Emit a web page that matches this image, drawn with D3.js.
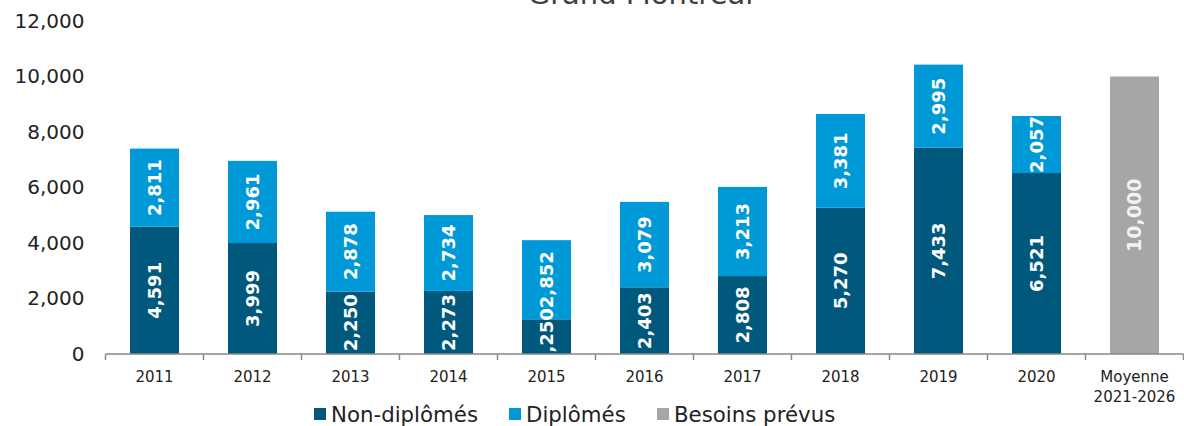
<!DOCTYPE html>
<html>
<head>
<meta charset="utf-8">
<script src="https://cdn.jsdelivr.net/npm/d3@7"></script>
<style>
  body { margin: 0; background: #fff; }
  svg { font-family: "DejaVu Sans", Verdana, sans-serif; }
</style>
</head>
<body>
<svg id="plot"></svg>
<script>
// data
let categories = ["2011","2012","2013","2014","2015","2016","2017","2018","2019","2020","Moyenne\n2021-2026"];
let nonDiplomes = [4591, 3999, 2250, 2273, 1250, 2403, 2808, 5270, 7433, 6521, 0];
let diplomes    = [2811, 2961, 2878, 2734, 2852, 3079, 3213, 3381, 2995, 2057, 0];
let besoins     = [0, 0, 0, 0, 0, 0, 0, 0, 0, 0, 10000];
let seriesNames = ["Non-diplômés", "Diplômés", "Besoins prévus"];
let yTicks = [0, 2000, 4000, 6000, 8000, 10000, 12000];

let colors = ["#00587c", "#0099d8", "#a6a6a6"];

let svgwidth = 1184, svgheight = 426;
let margin_left = 105.5, margin_right = 0.5, margin_top = 21, margin_bottom = 72;
let plot_width = svgwidth - margin_left - margin_right;
let plot_height = svgheight - margin_top - margin_bottom;

let svg = d3.select("#plot").attr("width", svgwidth).attr("height", svgheight);

//build stacked rows for d3.stack
let rows = categories.map((c, i) => ({cat: c, s0: nonDiplomes[i], s1: diplomes[i], s2: besoins[i]}));
let stacked = d3.stack().keys(["s0","s1","s2"])(rows);

let x_scale = d3.scaleBand(categories, [margin_left, margin_left + plot_width]).paddingInner(0.5).paddingOuter(0.25);
let y_scale = d3.scaleLinear([0, 12000], [margin_top + plot_height, margin_top]);

//title, mostly cut off at the top
svg.append("text")
  .attr("x", margin_left + plot_width / 2 - 4)
  .attr("y", 4)
  .attr("text-anchor", "middle")
  .attr("font-size", 29)
  .attr("fill", "#404040")
  .text("Grand Montréal");

//y axis labels only
let yAxis = d3.axisLeft(y_scale).tickValues(yTicks).tickFormat(d3.format(",")).tickSize(0).tickPadding(0);
let y_ax = svg.append("g")
  .attr("transform", `translate(${margin_left - 21},0)`)
  .call(yAxis);
y_ax.select(".domain").remove();
y_ax.selectAll("text").attr("font-size", 20).attr("fill", "#222").attr("font-family", "DejaVu Sans, Verdana, sans-serif");

//clip for the labels
svg.append("clipPath").attr("id", "plotclip")
  .append("rect").attr("x", margin_left).attr("y", 0)
  .attr("width", plot_width).attr("height", margin_top + plot_height);

//bars
let gBars = svg.append("g");
stacked.forEach((layer, k) => {
  gBars.append("g").selectAll("rect")
    .data(layer.filter(d => d[1] > d[0]))
    .join("rect")
    .attr("x", d => x_scale(d.data.cat))
    .attr("width", x_scale.bandwidth())
    .attr("y", d => y_scale(d[1]))
    .attr("height", d => y_scale(d[0]) - y_scale(d[1]))
    .attr("fill", colors[k]);
});

//value labels, rotated
let gLab = svg.append("g").attr("clip-path", "url(#plotclip)");
stacked.forEach((layer, k) => {
  gLab.append("g").selectAll("text")
    .data(layer.filter(d => d[1] > d[0]))
    .join("text")
    .attr("transform", d => `translate(${x_scale(d.data.cat) + x_scale.bandwidth() / 2},${y_scale((d[0] + d[1]) / 2)}) rotate(-90)`)
    .attr("text-anchor", "middle")
    .attr("dy", "0.36em")
    .attr("font-size", k == 2 ? 19 : 18)
    .attr("font-weight", "bold")
    .attr("fill", k == 2 ? "#f2f2f2" : "#fff")
    .text(d => d3.format(",")(d[1] - d[0]));
});

//x axis with ticks between categories
let x_ax = svg.append("g").attr("transform", `translate(0,${margin_top + plot_height})`);
x_ax.append("line")
  .attr("x1", margin_left).attr("x2", margin_left + plot_width)
  .attr("stroke", "#898989").attr("stroke-width", 1.5);
let bounds = categories.map(c => x_scale(c) - x_scale.step() * 0.25).concat([margin_left + plot_width]);
x_ax.selectAll(".tk").data(bounds).join("line")
  .attr("x1", d => d).attr("x2", d => d).attr("y1", 0).attr("y2", 6)
  .attr("stroke", "#898989").attr("stroke-width", 1.5);
x_ax.selectAll(".lab").data(categories).join("text")
  .attr("x", d => x_scale(d) + x_scale.bandwidth() / 2)
  .attr("y", 28)
  .attr("text-anchor", "middle")
  .attr("font-size", 15)
  .attr("fill", "#222")
  .each(function(d) {
    let parts = d.split("\n");
    d3.select(this).selectAll("tspan").data(parts).join("tspan")
      .attr("x", x_scale(d) + x_scale.bandwidth() / 2)
      .attr("dy", (p, i) => i == 0 ? 0 : 20)
      .text(p => p);
  });

//legend
let legendX = [314, 509, 657];
let leg = svg.append("g").attr("transform", "translate(0,414)");
seriesNames.forEach((n, i) => {
  leg.append("rect").attr("x", legendX[i]).attr("y", -6).attr("width", 12).attr("height", 12).attr("fill", colors[i]);
  leg.append("text").attr("x", legendX[i] + 17).attr("y", 0).attr("dy", "0.36em")
    .attr("font-size", 21.3).attr("fill", "#222").text(n);
});
</script>
</body>
</html>
